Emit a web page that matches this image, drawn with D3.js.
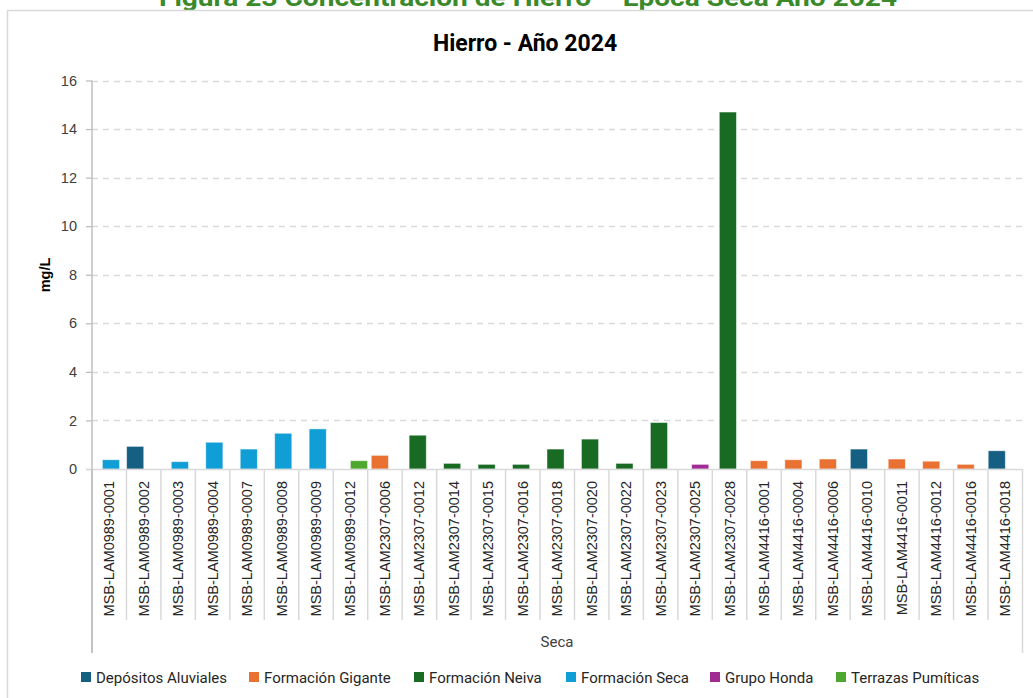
<!DOCTYPE html>
<html>
<head>
<meta charset="utf-8">
<script src="https://cdn.jsdelivr.net/npm/d3@7"></script>
<style>
  html, body { margin: 0; padding: 0; background: #fff; }
  svg { display: block; }
</style>
</head>
<body>
<svg id="chart" width="1033" height="698"></svg>
<script>
const categories = [
  "MSB-LAM0989-0001","MSB-LAM0989-0002","MSB-LAM0989-0003","MSB-LAM0989-0004",
  "MSB-LAM0989-0007","MSB-LAM0989-0008","MSB-LAM0989-0009","MSB-LAM0989-0012",
  "MSB-LAM2307-0006","MSB-LAM2307-0012","MSB-LAM2307-0014","MSB-LAM2307-0015",
  "MSB-LAM2307-0016","MSB-LAM2307-0018","MSB-LAM2307-0020","MSB-LAM2307-0022",
  "MSB-LAM2307-0023","MSB-LAM2307-0025","MSB-LAM2307-0028","MSB-LAM4416-0001",
  "MSB-LAM4416-0004","MSB-LAM4416-0006","MSB-LAM4416-0010","MSB-LAM4416-0011",
  "MSB-LAM4416-0012","MSB-LAM4416-0016","MSB-LAM4416-0018"
];
const seriesNames = ["Depósitos Aluviales","Formación Gigante","Formación Neiva","Formación Seca","Grupo Honda","Terrazas Pumíticas"];
const seriesColors = ["#156082","#e97132","#196b24","#0f9ed5","#a02b93","#4ea72e"];
// geology unit of each well (same order as categories)
const unitOf = [
  "Formación Seca","Depósitos Aluviales","Formación Seca","Formación Seca",
  "Formación Seca","Formación Seca","Formación Seca","Terrazas Pumíticas",
  "Formación Gigante","Formación Neiva","Formación Neiva","Formación Neiva",
  "Formación Neiva","Formación Neiva","Formación Neiva","Formación Neiva",
  "Formación Neiva","Grupo Honda","Formación Neiva","Formación Gigante",
  "Formación Gigante","Formación Gigante","Depósitos Aluviales","Formación Gigante",
  "Formación Gigante","Formación Gigante","Depósitos Aluviales"
];
const values = [
  0.38, 0.93, 0.30, 1.10,
  0.82, 1.47, 1.65, 0.34,
  0.56, 1.39, 0.23, 0.19,
  0.19, 0.82, 1.23, 0.23,
  1.91, 0.19, 14.70, 0.34,
  0.38, 0.41, 0.82, 0.41,
  0.32, 0.19, 0.75
];
const yTicks = [0, 2, 4, 6, 8, 10, 12, 14, 16];

const figTitle = "Figura 23 Concentración de Hierro – Época Seca Año 2024";
const chartTitle = "Hierro - Año 2024";
const yTitle = "mg/L";
const xTitle = "Seca";

(function () {
const svg = d3.select("#chart");
const narrow = "'Liberation Sans Narrow','Arial Narrow','Roboto','Liberation Sans',sans-serif";
const sans = "'Liberation Sans',Arial,sans-serif";

const pl = 92, pr = 1022.5, pt = 80.5, pb = 469;

// figure caption (clipped at top, as in the reference)
svg.append("text").attr("x", 528).attr("y", 6)
  .attr("text-anchor", "middle").attr("font-family", narrow)
  .attr("font-weight", "bold").attr("font-size", 24).attr("fill", "#3a8a2c")
  .attr("textLength", 738).attr("lengthAdjust", "spacingAndGlyphs")
  .text(figTitle);

// chart border
svg.append("rect").attr("x", 7.5).attr("y", 10.5).attr("width", 1040).attr("height", 720)
  .attr("fill", "#fff").attr("stroke", "#d9d9d9").attr("stroke-width", 1.5);

// chart title
svg.append("text").attr("x", 525).attr("y", 51)
  .attr("text-anchor", "middle").attr("font-family", narrow)
  .attr("font-weight", "bold").attr("font-size", 23).attr("fill", "#000")
  .text(chartTitle);

const x = d3.scaleBand().domain(categories).range([pl, pr]).paddingInner(0).paddingOuter(0);
const y = d3.scaleLinear().domain([0, 16]).range([pb, pt]);
const sOff = d3.scalePoint().domain(seriesNames).range([-x.bandwidth() * 0.247, x.bandwidth() * 0.247]);
const barW = x.bandwidth() * 0.495;

// gridlines
svg.append("g").selectAll("line").data(yTicks.filter(d => d > 0)).join("line")
  .attr("x1", pl).attr("x2", pr)
  .attr("y1", d => Math.round(y(d)) + 0.5).attr("y2", d => Math.round(y(d)) + 0.5)
  .attr("stroke", "#d9d9d9").attr("stroke-width", 1.3).attr("stroke-dasharray", "6,5");

// y axis
const yAxis = d3.axisLeft(y).tickValues(yTicks).tickSize(6).tickPadding(9).tickFormat(d3.format("d"));
const gy = svg.append("g").attr("transform", `translate(${pl},0)`).call(yAxis);
gy.select(".domain").remove();
gy.selectAll(".tick line").attr("stroke", "#bfbfbf").attr("stroke-width", 1.3);
gy.selectAll(".tick text").attr("font-family", sans).attr("font-size", 14.5).attr("fill", "#404040");
svg.append("line").attr("x1", pl).attr("x2", pl).attr("y1", pt).attr("y2", 653)
  .attr("stroke", "#bfbfbf").attr("stroke-width", 1.5);

// bars
svg.append("g").selectAll("rect").data(categories).join("rect")
  .attr("x", (c, i) => x(c) + x.bandwidth() / 2 + sOff(unitOf[i]) - barW / 2)
  .attr("y", (c, i) => y(values[i]))
  .attr("width", barW)
  .attr("height", (c, i) => y(0) - y(values[i]))
  .attr("fill", (c, i) => seriesColors[seriesNames.indexOf(unitOf[i])])
  .attr("stroke", "#fff").attr("stroke-opacity", 0.5).attr("stroke-width", 0.8);

// x axis line
svg.append("line").attr("x1", pl - 6).attr("x2", pr).attr("y1", pb + 0.5).attr("y2", pb + 0.5)
  .attr("stroke", "#d9d9d9").attr("stroke-width", 1.5);

// category separators
const seps = categories.map(c => x(c)).concat([pr]);
svg.append("g").selectAll("line").data(seps).join("line")
  .attr("x1", d => d).attr("x2", d => d)
  .attr("y1", pb).attr("y2", (d, i) => (i === 0 || i === seps.length - 1) ? 653 : 620)
  .attr("stroke", (d, i) => i === 0 ? "#bfbfbf" : "#d9d9d9").attr("stroke-width", 1.5);

// x labels
svg.append("g").selectAll("text").data(categories).join("text")
  .attr("transform", c => `translate(${x(c) + x.bandwidth() / 2 + 5},481) rotate(-90)`)
  .attr("text-anchor", "end").attr("font-family", sans).attr("font-size", 14.5).attr("fill", "#262626")
  .text(c => c);

// axis titles
svg.append("text").attr("transform", "translate(50,275) rotate(-90)")
  .attr("text-anchor", "middle").attr("font-family", sans).attr("font-weight", "bold")
  .attr("font-size", 14.5).attr("fill", "#000").text(yTitle);
svg.append("text").attr("x", 557).attr("y", 647)
  .attr("text-anchor", "middle").attr("font-family", narrow).attr("font-size", 15)
  .attr("fill", "#404040").text(xTitle);

// legend
const legendX = [81, 249, 414, 566, 710, 836];
const lg = svg.append("g").selectAll("g").data(seriesNames).join("g")
  .attr("transform", (d, i) => `translate(${legendX[i]},672)`);
lg.append("rect").attr("width", 10).attr("height", 10).attr("fill", (d, i) => seriesColors[i]);
lg.append("text").attr("x", 15).attr("y", 10.5).attr("font-family", narrow).attr("font-size", 15)
  .attr("fill", "#262626").text(d => d);
})();
</script>
</body>
</html>
